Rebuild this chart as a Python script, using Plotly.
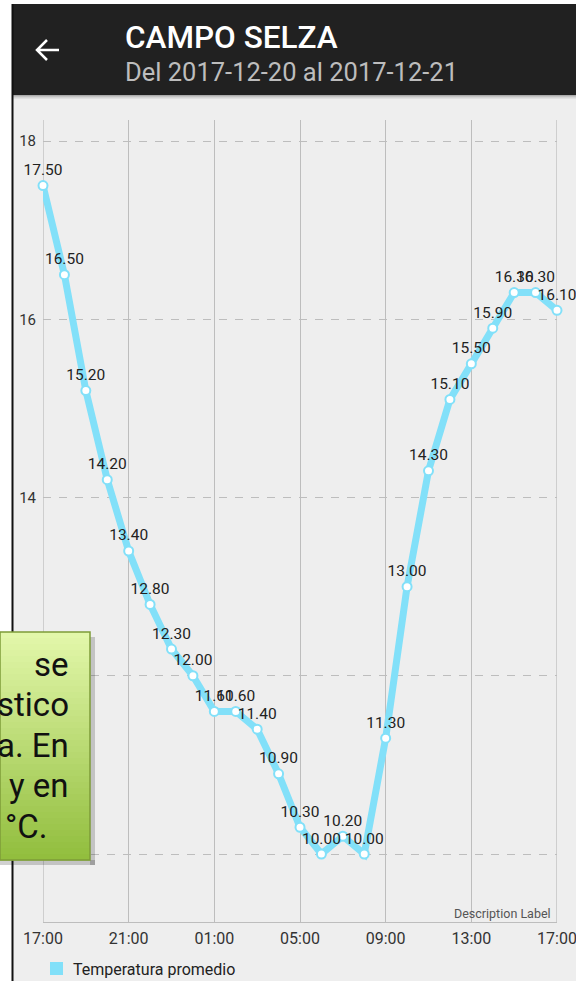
import plotly.graph_objects as go

# ---------------- data ----------------
hours = list(range(25))  # hourly from 17:00 (day 1) to 17:00 (day 2)
temps = [17.5, 16.5, 15.2, 14.2, 13.4, 12.8, 12.3, 12.0, 11.6, 11.6, 11.4, 10.9,
         10.3, 10.0, 10.2, 10.0, 11.3, 13.0, 14.3, 15.1, 15.5, 15.9, 16.3, 16.3, 16.1]
xtick_vals = [0, 4, 8, 12, 16, 20, 24]
xtick_text = ["17:00", "21:00", "01:00", "05:00", "09:00", "13:00", "17:00"]
ytick_vals = [10, 12, 14, 16, 18]
series_name = "Temperatura promedio"
title = "CAMPO SELZA"
subtitle = "Del 2017-12-20 al 2017-12-21"
overlay_lines = ["se", "stico", "a. En", "y en", "°C."]

# ---------------- layout helpers ----------------
W, H = 576, 981
PL, PR, PT, PB = 43, 557, 120, 922
FONT = "Roboto"
CYAN = "#82E0F9"
GRID = "#BDBDBD"


def fx(x):
    return (x - PL) / (PR - PL)


def fy(y):
    return (PB - y) / (PB - PT)


def rect(x0, y0, x1, y1, fill, layer="below", line=None):
    d = dict(type="rect", xref="paper", yref="paper",
             x0=fx(x0), x1=fx(x1), y0=fy(y0), y1=fy(y1),
             fillcolor=fill, layer=layer, line=dict(width=0))
    if line:
        d["line"] = line
    return d


fig = go.Figure()
fig.add_trace(go.Scatter(
    x=hours, y=temps, mode="lines+markers+text",
    text=[f"{v:.2f}" for v in temps], textposition="top center",
    textfont=dict(family=FONT, size=15.5, color="#222222"),
    line=dict(color=CYAN, width=7),
    marker=dict(size=9, color="white", line=dict(color=CYAN, width=2)),
    cliponaxis=False, showlegend=False, name=series_name,
))

shapes = []
# app background
shapes.append(rect(12, 4, W, H, "#EEEEEE"))
# plot-edge vertical grid lines (first and last ticks)
for xv in (xtick_vals[0], xtick_vals[-1]):
    shapes.append(dict(type="line", xref="x", yref="paper", x0=xv, x1=xv, y0=0, y1=1,
                       line=dict(color=GRID, width=1.3), layer="below"))
# header bar
shapes.append(rect(12, 4, W, 95, "#212121"))
for i, a in enumerate([0.28, 0.18, 0.10, 0.05]):
    shapes.append(rect(12, 95 + i, W, 96 + i, f"rgba(0,0,0,{a})"))
# device edge line
shapes.append(dict(type="line", xref="paper", yref="paper",
                   x0=fx(12.5), x1=fx(12.5), y0=fy(4), y1=fy(H),
                   line=dict(color="#111111", width=2), layer="above"))
# back arrow
shapes.append(dict(type="path", xref="paper", yref="paper",
                   path=(f"M {fx(37)},{fy(50)} L {fx(59)},{fy(50)} "
                         f"M {fx(47)},{fy(40)} L {fx(37)},{fy(50)} L {fx(47)},{fy(60)}"),
                   line=dict(color="white", width=2.5), layer="above"))
# legend square
shapes.append(rect(50, 962, 63, 975, CYAN, layer="above"))

# green overlay box (gradient via strips)
bx0, by0, bx1, by1 = 0, 632, 90, 860
shapes.append(rect(bx1, by0 + 5, bx1 + 5, by1 + 5, "rgba(0,0,0,0.18)", layer="above"))
shapes.append(rect(bx0, by1, bx1 + 5, by1 + 5, "rgba(0,0,0,0.18)", layer="above"))
top_c = (226, 247, 170)
bot_c = (146, 190, 62)
n = 38
for i in range(n):
    t = i / (n - 1)
    c = tuple(int(round(top_c[k] + (bot_c[k] - top_c[k]) * t)) for k in range(3))
    ya = by0 + (by1 - by0) * i / n
    yb = by0 + (by1 - by0) * (i + 1) / n + 0.6
    shapes.append(rect(bx0, ya, bx1, yb, f"rgb{c}", layer="above"))
shapes.append(rect(bx0, by0, bx1, by1, "rgba(0,0,0,0)", layer="above",
                   line=dict(color="#7E9C38", width=1.5)))

annotations = [
    dict(text=title, x=fx(123), y=fy(37), xanchor="left", yanchor="middle",
         font=dict(family=FONT, size=31.5, color="white", weight=500)),
    dict(text=subtitle, x=fx(123), y=fy(72), xanchor="left", yanchor="middle",
         font=dict(family=FONT, size=25.5, color="#BDBDBD")),
    dict(text="Description Label", x=fx(553), y=fy(913), xanchor="right", yanchor="middle",
         font=dict(family=FONT, size=12.5, color="#555555")),
    dict(text=series_name, x=fx(71), y=fy(969), xanchor="left", yanchor="middle",
         font=dict(family=FONT, size=16, color="#222222")),
]
line_y = [664, 705, 745, 785, 826]
line_right = [71, 71, 71, 71, 50]
for txt, yy, xr in zip(overlay_lines, line_y, line_right):
    annotations.append(dict(text=txt, x=fx(xr), y=fy(yy), xanchor="right", yanchor="middle",
                            font=dict(family=FONT, size=33, color="#111111")))
for a in annotations:
    a.update(xref="paper", yref="paper", showarrow=False)

fig.update_layout(
    width=W, height=H, autosize=False,
    margin=dict(l=PL, r=W - PR, t=PT, b=H - PB, pad=0, autoexpand=False),
    paper_bgcolor="white", plot_bgcolor="rgba(0,0,0,0)",
    shapes=shapes, annotations=annotations, showlegend=False,
    font=dict(family=FONT),
)
fig.update_xaxes(range=[0, 24], tickvals=xtick_vals, ticktext=xtick_text,
                 automargin=False,
                 showgrid=True, gridcolor=GRID, gridwidth=1.3,
                 showline=True, linecolor=GRID, linewidth=1.3, zeroline=False,
                 ticks="", ticklabelstandoff=2, ticklabeloverflow="allow",
                 tickfont=dict(family=FONT, size=16, color="#333333"))
fig.update_yaxes(range=[9.237, 18.236], tickvals=ytick_vals,
                 automargin=False,
                 showgrid=True, gridcolor=GRID, gridwidth=1.3, griddash="8px,8px",
                 showline=False, zeroline=False, ticks="", ticklabelstandoff=6,
                 tickfont=dict(family=FONT, size=15, color="#333333"))

fig.write_html("out.html",
               config={"displayModeBar": False},
               post_script="document.body.style.margin='0';"
                           "document.body.style.overflow='hidden';")
